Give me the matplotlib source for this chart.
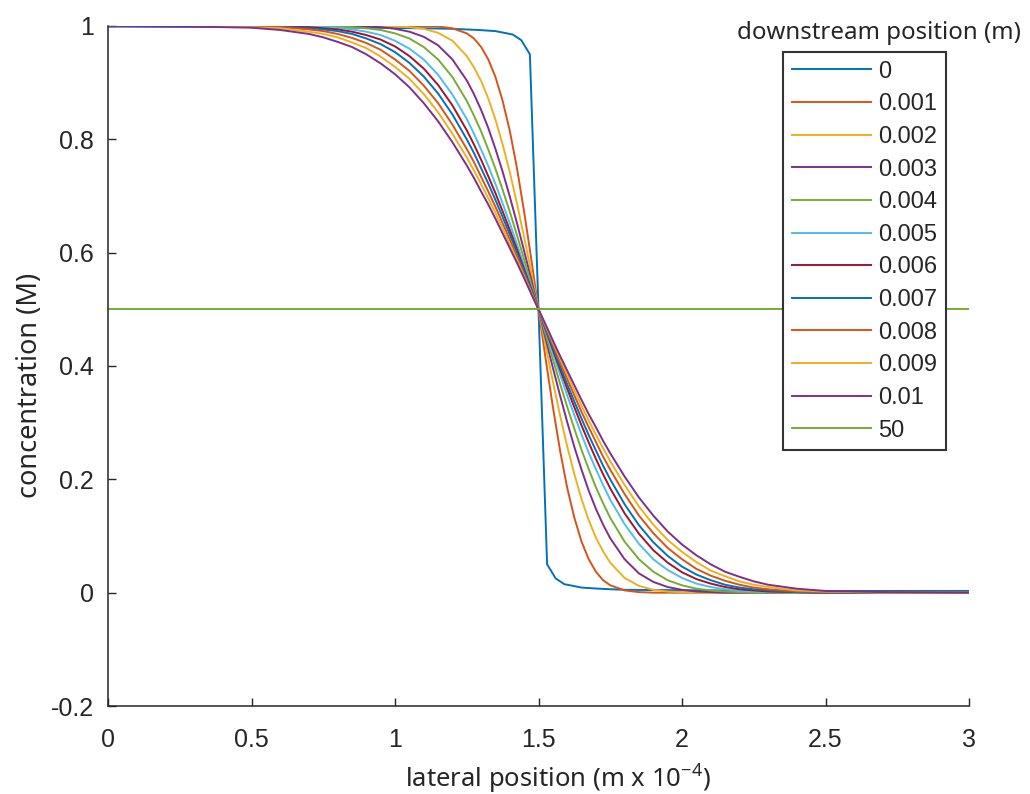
import matplotlib
matplotlib.use("Agg")
import matplotlib.pyplot as plt

#========================================================
# Concentration profiles across the channel
#========================================================

# shared lateral grid (m x 1e-4) for the diffusing profiles
x_grid = [0, 0.3, 0.5, 0.6, 0.7, 0.75, 0.8, 0.85, 0.9, 0.95, 1.0, 1.05, 1.1, 1.15, 1.2,
          1.25, 1.275, 1.3, 1.325, 1.35, 1.375, 1.4, 1.425, 1.45, 1.475, 1.5,
          1.525, 1.55, 1.575, 1.6, 1.625, 1.65, 1.675, 1.7, 1.725, 1.75, 1.8, 1.85,
          1.9, 1.95, 2.0, 2.05, 2.1, 2.15, 2.2, 2.25, 2.3, 2.4, 2.5, 2.7, 3.0]

# downstream position 0 (inlet) has its own, sharper sampling
x_inlet = [0, 0.6, 0.9, 1.1, 1.2, 1.29, 1.35, 1.41, 1.44, 1.47, 1.53, 1.56,
           1.59, 1.65, 1.71, 1.8, 2.1, 2.5, 3.0]
c_inlet = [0.999, 0.998, 0.997, 0.996, 0.995, 0.993, 0.991, 0.985, 0.975, 0.95,
           0.05, 0.025, 0.015, 0.009, 0.007, 0.005, 0.004, 0.003, 0.003]

c_001 = [1, 1, 1, 1, 1, 1, 1, 1, 1, 1, 1, 1, 1.0, 0.999, 0.996, 0.987, 0.978, 0.963, 0.941,
         0.910, 0.868, 0.815, 0.749, 0.672, 0.588, 0.5,
         0.412, 0.328, 0.251, 0.185, 0.132, 0.090, 0.059, 0.037, 0.022, 0.013, 0.004, 0.001,
         0, 0, 0, 0, 0, 0, 0, 0, 0, 0, 0, 0, 0]
c_002 = [1, 1, 1, 1, 1, 1, 1, 1, 1.0, 1.0, 0.999, 0.998, 0.995, 0.988, 0.974, 0.947, 0.927,
         0.903, 0.872, 0.835, 0.791, 0.742, 0.687, 0.627, 0.565, 0.5,
         0.435, 0.373, 0.313, 0.258, 0.209, 0.165, 0.128, 0.097, 0.073, 0.053, 0.026, 0.012,
         0.005, 0.002, 0.001, 0, 0, 0, 0, 0, 0, 0, 0, 0, 0]
c_003 = [1, 1, 1, 1, 1.0, 1.0, 1.0, 1.0, 0.999, 0.998, 0.995, 0.990, 0.981, 0.966, 0.941, 0.904,
         0.880, 0.852, 0.820, 0.783, 0.743, 0.699, 0.652, 0.603, 0.552, 0.5,
         0.448, 0.397, 0.348, 0.301, 0.257, 0.217, 0.180, 0.148, 0.120, 0.096, 0.059, 0.034,
         0.019, 0.010, 0.005, 0.002, 0.001, 0, 0, 0, 0, 0, 0, 0, 0]
c_004 = [1, 1, 1, 1, 1.0, 1.0, 0.999, 0.998, 0.996, 0.993, 0.987, 0.978, 0.963, 0.941, 0.910,
         0.868, 0.842, 0.814, 0.782, 0.748, 0.711, 0.672, 0.631, 0.588, 0.544, 0.5,
         0.456, 0.412, 0.369, 0.328, 0.289, 0.252, 0.218, 0.186, 0.158, 0.132, 0.090, 0.059,
         0.037, 0.022, 0.013, 0.007, 0.004, 0.002, 0.001, 0, 0, 0, 0, 0, 0]
c_005 = [1, 1, 1, 1.0, 0.999, 0.998, 0.997, 0.994, 0.990, 0.984, 0.974, 0.960, 0.941, 0.914,
         0.879, 0.836, 0.810, 0.782, 0.753, 0.721, 0.687, 0.652, 0.615, 0.577, 0.539, 0.5,
         0.461, 0.423, 0.385, 0.348, 0.313, 0.279, 0.247, 0.218, 0.190, 0.164, 0.121, 0.086,
         0.059, 0.040, 0.026, 0.016, 0.010, 0.006, 0.003, 0.002, 0.001, 0, 0, 0, 0]
c_006 = [1, 1, 1.0, 0.999, 0.998, 0.996, 0.994, 0.990, 0.984, 0.976, 0.964, 0.947, 0.925,
         0.896, 0.860, 0.816, 0.791, 0.764, 0.735, 0.705, 0.673, 0.640, 0.606, 0.571, 0.536, 0.5,
         0.464, 0.429, 0.394, 0.360, 0.327, 0.295, 0.265, 0.236, 0.209, 0.184, 0.140, 0.104,
         0.075, 0.053, 0.036, 0.024, 0.016, 0.010, 0.006, 0.004, 0.002, 0.001, 0, 0, 0]
c_007 = [1, 1, 1.0, 0.999, 0.996, 0.994, 0.991, 0.986, 0.978, 0.968, 0.954, 0.935, 0.911,
         0.881, 0.844, 0.800, 0.776, 0.749, 0.722, 0.693, 0.663, 0.632, 0.600, 0.567, 0.534, 0.5,
         0.466, 0.433, 0.400, 0.368, 0.337, 0.307, 0.278, 0.251, 0.224, 0.200, 0.156, 0.119,
         0.089, 0.065, 0.046, 0.032, 0.022, 0.014, 0.009, 0.006, 0.004, 0.001, 0, 0, 0]
c_008 = [1, 1.0, 0.999, 0.998, 0.994, 0.991, 0.986, 0.979, 0.970, 0.958, 0.941, 0.921, 0.895,
         0.864, 0.826, 0.783, 0.760, 0.734, 0.708, 0.681, 0.652, 0.623, 0.593, 0.562, 0.531, 0.5,
         0.469, 0.438, 0.407, 0.377, 0.348, 0.319, 0.292, 0.266, 0.240, 0.217, 0.174, 0.136,
         0.105, 0.079, 0.059, 0.042, 0.030, 0.021, 0.014, 0.009, 0.006, 0.002, 0.001, 0, 0]
c_009 = [1, 1.0, 0.998, 0.996, 0.990, 0.986, 0.980, 0.971, 0.961, 0.946, 0.928, 0.907, 0.880,
         0.848, 0.810, 0.768, 0.745, 0.721, 0.696, 0.670, 0.643, 0.615, 0.587, 0.558, 0.529, 0.5,
         0.471, 0.442, 0.413, 0.385, 0.357, 0.330, 0.304, 0.279, 0.255, 0.232, 0.190, 0.152,
         0.120, 0.093, 0.072, 0.054, 0.039, 0.029, 0.020, 0.014, 0.010, 0.004, 0.002, 0, 0]
c_010 = [1, 0.999, 0.997, 0.993, 0.986, 0.980, 0.972, 0.963, 0.950, 0.934, 0.915, 0.892, 0.864,
         0.832, 0.795, 0.754, 0.732, 0.708, 0.685, 0.660, 0.634, 0.608, 0.582, 0.555, 0.527, 0.5,
         0.473, 0.445, 0.418, 0.392, 0.366, 0.340, 0.315, 0.292, 0.268, 0.246, 0.205, 0.168,
         0.136, 0.108, 0.085, 0.066, 0.050, 0.037, 0.028, 0.020, 0.014, 0.007, 0.003, 0.001, 0]

# far downstream: fully mixed
x_mixed = [0, 3]
c_mixed = [0.5, 0.5]

labels = ["0", "0.001", "0.002", "0.003", "0.004", "0.005", "0.006",
          "0.007", "0.008", "0.009", "0.01", "50"]

xticks = [0, 0.5, 1, 1.5, 2, 2.5, 3]
xtick_labels = ["0", "0.5", "1", "1.5", "2", "2.5", "3"]
yticks = [-0.2, 0, 0.2, 0.4, 0.6, 0.8, 1]
ytick_labels = ["-0.2", "0", "0.2", "0.4", "0.6", "0.8", "1"]

# MATLAB default line colour order
colors = ["#0072BD", "#D95319", "#EDB120", "#7E2F8E", "#77AC30", "#4DBEEE", "#A2142F"]

#========================================================
# Plot
W, H = 1030, 794
fig = plt.figure(figsize=(W / 100, H / 100), dpi=100)
ax = fig.add_axes([108 / W, 1 - 706 / H, 861 / W, 680 / H])

series = [(x_inlet, c_inlet)] + [(x_grid, c) for c in
          (c_001, c_002, c_003, c_004, c_005, c_006, c_007, c_008, c_009, c_010)] + [(x_mixed, c_mixed)]

handles = []
for i, (xs, cs) in enumerate(series):
    h, = ax.plot(xs, cs, color=colors[i % len(colors)], lw=1.4, label=labels[i])
    handles.append(h)

ax.set_xlim(0, 3)
ax.set_ylim(-0.2, 1)
ax.set_xticks(xticks)
ax.set_xticklabels(xtick_labels)
ax.set_yticks(yticks)
ax.set_yticklabels(ytick_labels)

axis_col = "#262626"
for side in ("top", "right"):
    ax.spines[side].set_visible(False)
for side in ("left", "bottom"):
    ax.spines[side].set_color(axis_col)
    ax.spines[side].set_linewidth(1.1)
ax.tick_params(direction="in", length=6, width=1.0, color=axis_col,
               labelcolor=axis_col, labelsize=18, labelfontfamily="Liberation Sans")
ax.tick_params(axis="x", pad=16)
ax.tick_params(axis="y", pad=10)

ax.set_xlabel(r"lateral position (m x 10$^{\mathregular{-4}}$)", fontsize=18.5,
              family="Noto Sans", color=axis_col)
ax.xaxis.set_label_coords(0.5226, -0.081)
ax.set_ylabel("concentration (M)", fontsize=19.5, family="Noto Sans", color=axis_col)
ax.yaxis.set_label_coords(-0.0743, 0.472)

leg = ax.legend(handles=handles, loc="upper left", bbox_to_anchor=(783 / W, 1 - 52 / H),
                bbox_transform=fig.transFigure, borderaxespad=0, frameon=True,
                fancybox=False, framealpha=1, edgecolor="#333333",
                prop={"family": "Liberation Sans", "size": 17},
                handlelength=3.35, handletextpad=0.3, labelspacing=0.45,
                borderpad=0.37)
leg.get_frame().set_linewidth(1.5)
for t in leg.get_texts():
    t.set_color(axis_col)

fig.text(879 / W, 1 - 33 / H, "downstream position (m)", ha="center", va="center",
         fontsize=17.3, family="Noto Sans", color=axis_col)

plt.savefig("out.png", dpi=100)
